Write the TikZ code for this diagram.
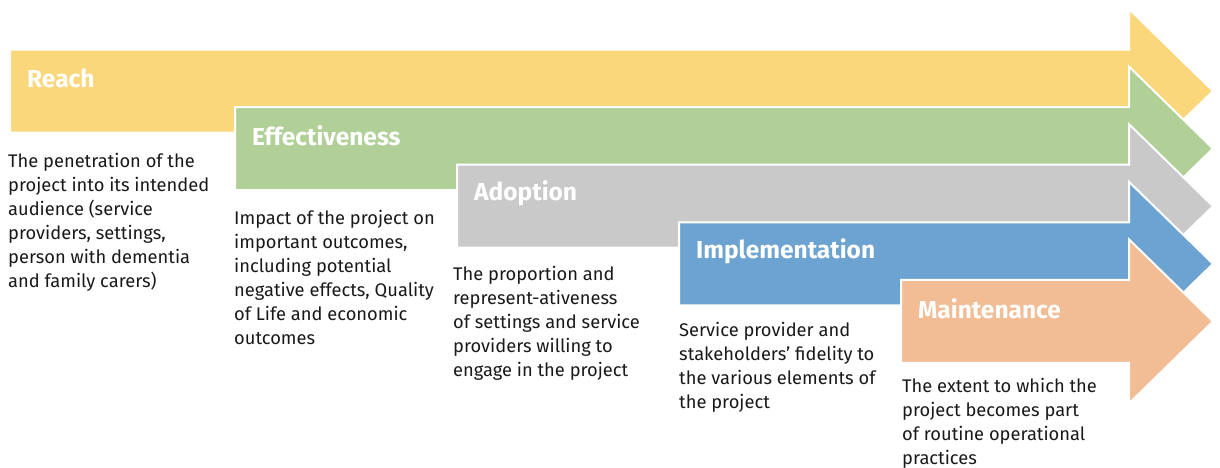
\documentclass[tikz,border=0pt]{standalone}
\usepackage{fontspec}
\setmainfont{Fira Sans}
\definecolor{cReach}{RGB}{249,215,122}
\definecolor{cEff}{RGB}{176,208,152}
\definecolor{cAdo}{RGB}{201,201,201}
\definecolor{cImp}{RGB}{108,163,208}
\definecolor{cMai}{RGB}{242,188,148}
\begin{document}
\begin{tikzpicture}[x=1pt,y=-1pt,
  arrowshape/.style={draw=white,line width=2pt,line join=miter},
  steplabel/.style={anchor=west,inner sep=0pt,text=white,font=\fontsize{24.5}{28}\selectfont\bfseries},
  stepdesc/.style={anchor=north west,inner sep=0pt,align=left,text=black!90,font=\fontsize{18.3}{24}\selectfont}]
\useasboundingbox (0,0) rectangle (1220,467);
\def\bh{41.5}
\def\hh{82}
\def\hb{1129}
\def\tip{1213}
\foreach \xl/\c/\col/\nm in {10/91/cReach/a, 235/148.6/cEff/b, 457/206.2/cAdo/c, 679/263.8/cImp/d, 901/321.4/cMai/e}{
  \fill[\col,arrowshape] (\xl,\c-\bh) -- (\hb,\c-\bh) -- (\hb,\c-\hh) -- (\tip,\c) -- (\hb,\c+\hh) -- (\hb,\c+\bh) -- (\xl,\c+\bh) -- cycle;
  \coordinate (lab\nm) at (\xl+17,\c-13);
}
\foreach \x/\b/\nm in {8/167.7/a, 234/224.3/b, 453/280/c, 679/335.8/d, 902/391.8/e}{
  \coordinate (desc\nm) at (\x,\b-16.8);
}
\node[steplabel] (la) at (laba) {Reach};
\node[steplabel] (lb) at (labb) {Effectiveness};
\node[steplabel] (lc) at (labc) {Adoption};
\node[steplabel] (ld) at (labd) {Implementation};
\node[steplabel] (le) at (labe) {Maintenance};
\node[stepdesc] (da) at (desca) {\strut The penetration of the\\project into its intended\\audience (service\\providers, settings,\\person with dementia\\and family carers)};
\node[stepdesc] (db) at (descb) {\strut Impact of the project on\\important outcomes,\\including potential\\negative effects, Quality\\of Life and economic\\outcomes};
\node[stepdesc] (dc) at (descc) {\strut The proportion and\\represent-ativeness\\of settings and service\\providers willing to\\engage in the project};
\node[stepdesc] (dd) at (descd) {\strut Service provider and\\stakeholders’ fidelity to\\the various elements of\\the project};
\node[stepdesc] (de) at (desce) {\strut The extent to which the\\project becomes part\\of routine operational\\practices};
\end{tikzpicture}
\end{document}
